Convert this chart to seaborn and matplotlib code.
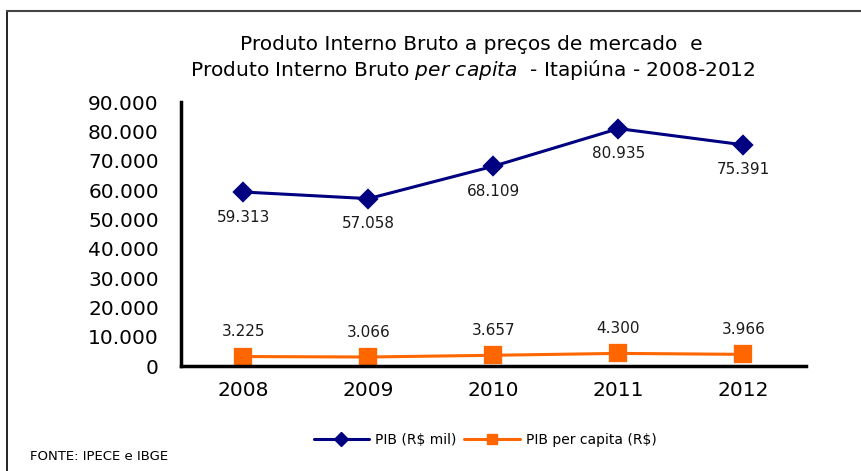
import numpy as np
import pandas as pd
import matplotlib
matplotlib.use("Agg")
import matplotlib.pyplot as plt
import seaborn as sns
from matplotlib.lines import Line2D
from matplotlib.ticker import FuncFormatter, FixedLocator

# --- data ---
anos = ["2008", "2009", "2010", "2011", "2012"]
pib_mil = [59313, 57058, 68109, 80935, 75391]
pib_per_capita = [3225, 3066, 3657, 4300, 3966]
serie_nomes = ["PIB (R$ mil)", "PIB per capita (R$)"]
cores = ["#000080", "#FF6600"]
y_ticks = list(range(0, 90001, 10000))


def fmt_br(v, pos=None):
    return f"{int(round(v)):,}".replace(",", ".")


def main():
    df = pd.DataFrame({
        "ano": anos * 2,
        "valor": pib_mil + pib_per_capita,
        "serie": [serie_nomes[0]] * len(anos) + [serie_nomes[1]] * len(anos),
    })

    sns.set_style("white")
    plt.rcParams["font.family"] = ["DejaVu Sans"]
    plt.rcParams["text.color"] = "black"
    plt.rcParams["xtick.color"] = "black"
    plt.rcParams["ytick.color"] = "black"

    fig = plt.figure(figsize=(8.62, 4.71), dpi=100)
    ax = fig.add_axes([181 / 862, 1 - 366 / 471, 625 / 862, 264 / 471])

    sns.pointplot(data=df, x="ano", y="valor", hue="serie", order=anos,
                  hue_order=serie_nomes, palette=cores, markers=["D", "s"],
                  linestyles="-", errorbar=None, ax=ax, legend=False,
                  markersize=9.5, linewidth=2.2)
    for ln in ax.lines:
        if ln.get_marker() == "s":
            ln.set_markersize(11.5)

    ax.set_ylim(0, 90000)
    ax.set_xlim(-0.5, len(anos) - 0.5)
    ax.yaxis.set_major_locator(FixedLocator(y_ticks))
    ax.yaxis.set_major_formatter(FuncFormatter(fmt_br))
    ax.set_xlabel("")
    ax.set_ylabel("")

    # tick marks between categories, labels at centres
    ax.tick_params(axis="x", which="major", length=0, pad=11, labelsize=14.5)
    ax.set_xticks(np.arange(-0.5, len(anos)), minor=True)
    ax.tick_params(axis="x", which="minor", length=5, width=2, direction="out")
    ax.tick_params(axis="y", length=6, width=2, direction="out", pad=10, labelsize=14.5)

    for s in ["top", "right"]:
        ax.spines[s].set_visible(False)
    for s in ["left", "bottom"]:
        ax.spines[s].set_linewidth(2.5)
        ax.spines[s].set_color("black")

    # data labels
    for i, v in enumerate(pib_mil):
        ax.annotate(fmt_br(v), (i, v), xytext=(0, -18), textcoords="offset points",
                    ha="center", va="center", fontsize=11, color="#1a1a1a")
    for i, v in enumerate(pib_per_capita):
        ax.annotate(fmt_br(v), (i, v), xytext=(0, 18), textcoords="offset points",
                    ha="center", va="center", fontsize=11, color="#1a1a1a")

    # title
    fig.text(471 / 862, 1 - 45 / 471, "Produto Interno Bruto a preços de mercado  e",
             ha="center", va="center", fontsize=14.5)
    fig.text(473 / 862, 1 - 70 / 471,
             r"Produto Interno Bruto $\it{per\ capita}$  - Itapiúna - 2008-2012",
             ha="center", va="center", fontsize=14.5)

    # legend
    handles = [
        Line2D([], [], color=cores[0], marker="D", markersize=7, linewidth=2.2),
        Line2D([], [], color=cores[1], marker="s", markersize=7, linewidth=2.2),
    ]
    fig.legend(handles, serie_nomes, loc="center", ncol=2, frameon=False,
               bbox_to_anchor=(485 / 862, 1 - 440 / 471), fontsize=10,
               handlelength=4, columnspacing=0.6, handletextpad=0.4)

    fig.text(30 / 862, 1 - 456 / 471, "FONTE: IPECE e IBGE", ha="left",
             va="center", fontsize=9.5)

    # chart frame (left and top edges visible)
    fig.add_artist(Line2D([7 / 862, 7 / 862], [0, 1 - 11 / 471], color="black",
                          linewidth=1.2, transform=fig.transFigure))
    fig.add_artist(Line2D([7 / 862, 1], [1 - 11 / 471, 1 - 11 / 471], color="#444444",
                          linewidth=1.5, transform=fig.transFigure))

    fig.savefig("out.png", dpi=100)


if __name__ == "__main__":
    main()
